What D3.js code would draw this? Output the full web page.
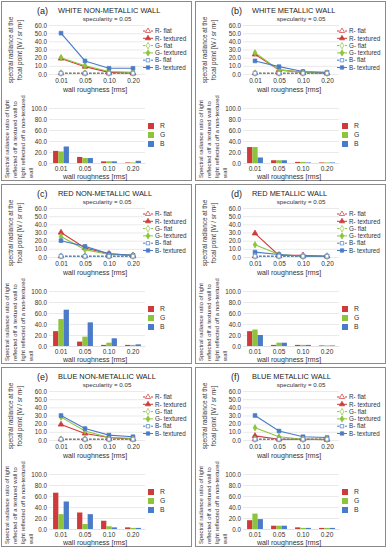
<!DOCTYPE html>
<html><head><meta charset="utf-8">
<script src="https://cdn.jsdelivr.net/npm/d3@7"></script>
<style>
body{margin:0;background:#fff;}
svg{display:block;font-family:"Liberation Sans",Arial,sans-serif;}
</style></head><body>
<svg id="c" width="388" height="550"></svg>
<script>
const roughness = ["0.01","0.05","0.10","0.20"];
const panelLabels = ["(a)","(b)","(c)","(d)","(e)","(f)"];
const panelTitles = ["WHITE NON-METALLIC WALL","WHITE METALLIC WALL","RED NON-METALLIC WALL","RED METALLIC WALL","BLUE NON-METALLIC WALL","BLUE METALLIC WALL"];
const subtitle = "specularity = 0.05";
const lineTicks = [0,10,20,30,40,50,60];
const barTicks = [0,20,40,60,80,100];
const seriesNames = ["R- flat","R- textured","G- flat","G- textured","B- flat","B- textured"];
const barNames = ["R","G","B"];

// spectral radiance at focal point, per panel a..f
const flatR = [[1,1,1,1],[1,1,1,1],[1,1,1,1],[1,1,1,1],[1,1,1,1],[1,1,1,1]];
const flatG = [[1,1,1,1],[1,1,1,1],[1,1,1,1],[1,1,1,1],[1,1,1,1],[1,1,1,1]];
const flatB = [[1,1,1,1],[1,1,1,1],[1,1,1,1],[1,1,1,1],[1,1,1,1],[1,1,1,1]];
const texturedR = [[19,9,2,1],[24,5,2,1],[30,11,4,2],[29,2,2,1],[19,8,3,1],[5,1,1,0.5]];
const texturedG = [[20,10,3,2],[26,5,2,1],[25,9,3,2],[15,3,1,1],[28,11,3,2],[15,4,1,1]];
const texturedB = [[50,16,7,7],[16,9,3,2],[20,13,4,2],[6,3,1,1],[30,14,6,4],[30,11,4,3]];

// ratio textured / non-textured
const ratioR = [[22,11,3,1],[29,5,2,1],[27,8,2,2],[27,2,2,1],[66,30,15,3],[16,6,3,2]];
const ratioG = [[21,9,3,1],[29,5,2,1],[49,17,6,2],[30,6,2,1],[27,9,5,2],[28,6,2,2]];
const ratioB = [[30,9,3,4],[10,5,1,1],[66,43,14,3],[20,6,2,1],[50,27,3,2],[18,6,2,2]];

const colR = "#cf3a3a", colG = "#8cc43c", colB = "#4a7bc8";
const txt = "#333";

const svg = d3.select("#c");

panelLabels.forEach((lab, i) => {
  const col = i % 2, row = Math.floor(i / 2);
  const g = svg.append("g").attr("transform", `translate(${col*194},${row*183})`);
  g.append("rect").attr("x",1.5).attr("y",1.5).attr("width",190).attr("height",179)
    .attr("fill","none").attr("stroke","#8a8a8a").attr("stroke-width",1);

  g.append("text").attr("x",37).attr("y",13.5).attr("font-size",9).attr("fill","#222").text(lab);
  g.append("text").attr("x",58).attr("y",13).attr("font-size",7.4).attr("fill","#222").text(panelTitles[i]);
  g.append("text").attr("x",107).attr("y",21).attr("text-anchor","middle").attr("font-size",6.2).attr("fill",txt).text(subtitle);

  // ---- line chart ----
  const x = d3.scalePoint().domain(roughness).range([61,133]);
  const y = d3.scaleLinear().domain([0,60]).range([74,25]);
  const gy = g.append("g").attr("transform","translate(49,0)")
    .call(d3.axisLeft(y).tickValues(lineTicks).tickSize(-96).tickFormat(d3.format(".1f")));
  gy.select(".domain").remove();
  gy.selectAll(".tick line").attr("stroke","#dcdcdc").attr("stroke-width",0.6);
  gy.selectAll(".tick text").attr("x",-2).attr("font-size",6.3).attr("fill",txt).attr("font-family","inherit");
  const gx = g.append("g").attr("transform","translate(0,75)")
    .call(d3.axisBottom(x).tickSize(0));
  gx.select(".domain").remove();
  gx.selectAll(".tick text").attr("dy",0).attr("y",8).attr("font-size",6.5).attr("fill",txt).attr("font-family","inherit");
  g.append("text").attr("x",95).attr("y",92).attr("text-anchor","middle").attr("font-size",7).attr("fill",txt).text("wall roughness [rms]");
  const yt = g.append("text").attr("transform","translate(0,50) rotate(-90)").attr("text-anchor","middle").attr("font-size",6.4).attr("fill",txt);
  yt.append("tspan").attr("x",0).attr("y",13).text("spectral radiance at the");
  yt.append("tspan").attr("x",0).attr("y",21.5).text("focal point [W / sr m²]");

  const series = [
    {d:flatR[i], c:colR, dash:"2.5,1.5", sym:d3.symbolTriangle, open:true},
    {d:texturedR[i], c:colR, dash:null, sym:d3.symbolTriangle, open:false},
    {d:flatG[i], c:colG, dash:"2.5,1.5", sym:d3.symbolDiamond, open:true},
    {d:texturedG[i], c:colG, dash:null, sym:d3.symbolDiamond, open:false},
    {d:flatB[i], c:colB, dash:"2.5,1.5", sym:d3.symbolSquare, open:true},
    {d:texturedB[i], c:colB, dash:null, sym:d3.symbolSquare, open:false}
  ];
  const line = d3.line().x((v,k)=>x(roughness[k])).y(v=>y(v));
  const drawOrder = [1,3,5,0,2,4];
  drawOrder.forEach(si => {
    const s = series[si];
    g.append("path").attr("d",line(s.d)).attr("fill","none").attr("stroke",s.c)
      .attr("stroke-width",1.1).attr("stroke-dasharray",s.dash);
    s.d.forEach((v,k) => {
      g.append("path").attr("d",d3.symbol(s.sym, s.sym===d3.symbolDiamond?12:14)())
        .attr("transform",`translate(${x(roughness[k])},${y(v)})`)
        .attr("fill",s.open?"#fff":s.c).attr("stroke",s.c).attr("stroke-width",0.7);
    });
  });
  // legend
  series.forEach((s, si) => {
    const ly = 31 + si*7.3;
    g.append("line").attr("x1",143).attr("x2",153).attr("y1",ly).attr("y2",ly)
      .attr("stroke",s.c).attr("stroke-width",1).attr("stroke-dasharray",s.dash);
    g.append("path").attr("d",d3.symbol(s.sym, 12)()).attr("transform",`translate(148,${ly})`)
      .attr("fill",s.open?"#fff":s.c).attr("stroke",s.c).attr("stroke-width",0.7);
    g.append("text").attr("x",155).attr("y",ly+2.2).attr("font-size",6.3).attr("fill",txt).text(seriesNames[si]);
  });

  // ---- bar chart ----
  const xb = d3.scaleBand().domain(roughness).range([49,145]).paddingInner(0.34).paddingOuter(0.17);
  const xs = d3.scaleBand().domain(barNames).range([0, xb.bandwidth()]);
  const yb = d3.scaleLinear().domain([0,100]).range([163,108]);
  const gyb = g.append("g").attr("transform","translate(49,0)")
    .call(d3.axisLeft(yb).tickValues(barTicks).tickSize(-96).tickFormat(d3.format(".1f")));
  gyb.select(".domain").remove();
  gyb.selectAll(".tick line").attr("stroke","#dcdcdc").attr("stroke-width",0.6);
  gyb.selectAll(".tick text").attr("x",-2).attr("font-size",6.3).attr("fill",txt).attr("font-family","inherit");
  const gxb = g.append("g").attr("transform","translate(0,163)")
    .call(d3.axisBottom(xb).tickSize(0));
  gxb.select(".domain").attr("stroke","#dcdcdc").attr("stroke-width",0.6);
  gxb.selectAll(".tick text").attr("dy",0).attr("y",8).attr("font-size",6.5).attr("fill",txt).attr("font-family","inherit");
  g.append("text").attr("x",95).attr("y",179).attr("text-anchor","middle").attr("font-size",7).attr("fill",txt).text("wall roughness [rms]");

  const bars = [{d:ratioR[i], c:colR},{d:ratioG[i], c:colG},{d:ratioB[i], c:colB}];
  bars.forEach((b, bi) => {
    b.d.forEach((v,k) => {
      g.append("rect").attr("x",xb(roughness[k]) + xs(barNames[bi])).attr("width",xs.bandwidth())
        .attr("y",yb(v)).attr("height",yb(0)-yb(v)).attr("fill",b.c);
    });
    const ly = 126 + bi*9;
    g.append("rect").attr("x",148).attr("y",ly-3).attr("width",6).attr("height",6).attr("fill",b.c);
    g.append("text").attr("x",160).attr("y",ly+2.3).attr("font-size",6.8).attr("fill",txt).text(barNames[bi]);
  });

  const byt = g.append("text").attr("transform","translate(0,178) rotate(-90)").attr("font-size",5.9).attr("fill",txt);
  ["Spectral radiance ratio of light","reflected off a textured wall to","light reflected off a non-textured","wall"]
    .forEach((t, li) => byt.append("tspan").attr("x",0).attr("y",9 + li*8).text(t));
});
</script>
</body></html>
